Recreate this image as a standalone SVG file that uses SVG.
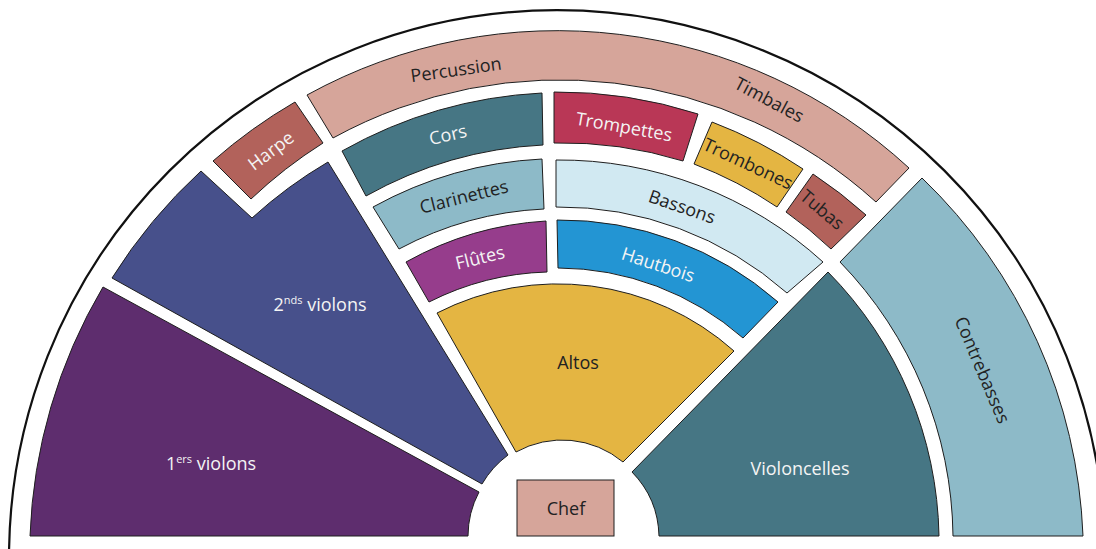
<svg xmlns="http://www.w3.org/2000/svg" width="1096" height="549" viewBox="0 0 1096 549">
<style>
.s{stroke:#1e1e1e;stroke-width:1;stroke-linejoin:miter}
text{font-family:"Open Sans","Lato","DejaVu Sans",sans-serif;font-size:18px;text-anchor:middle}
.w{fill:#f4f4f4}
.d{fill:#222}
.sup{font-size:11px}
</style>
<rect width="1096" height="549" fill="#ffffff"/>
<g id="stage">
<path d="M9,558 A548,548 0 0 1 1105,558" fill="none" stroke="#111" stroke-width="2.2"/>
</g>
<g id="violons1">
<path class="s" fill="#5e2d6e" d="M30,536 L468,536 A95,95 0 0 1 479,492 L103,287 A526,526 0 0 0 30,536 Z"/>
<text class="w" x="211" y="470">1<tspan class="sup" dy="-7">ers</tspan><tspan dy="7"> violons</tspan></text>
</g>
<g id="violons2">
<path class="s" fill="#47508b" d="M112,278 A521,521 0 0 1 201,171 L252,218 A451,451 0 0 1 328,162 L508,455 A97,97 0 0 0 482,484 Z"/>
<text class="w" x="320" y="311">2<tspan class="sup" dy="-7">nds</tspan><tspan dy="7"> violons</tspan></text>
</g>
<g id="harpe">
<path class="s" fill="#b2625b" d="M251,199 L213,161 A519,519 0 0 1 295,102 L323,143 A467,467 0 0 0 251,199 Z"/>
<text class="w" transform="translate(271,151) rotate(-37)" y="6">Harpe</text>
</g>
<g id="percussion">
<path class="s" fill="#d6a59a" d="M307,95 A519,519 0 0 1 909,168 L876,202 A471,471 0 0 0 333,138 Z"/>
<text class="d" transform="translate(456,70) rotate(-8)" y="6">Percussion</text>
<text class="d" transform="translate(769,100) rotate(28)" y="6">Timbales</text>
</g>
<g id="cors">
<path class="s" fill="#467684" d="M342,151 A455,455 0 0 1 542,93 L543,145 A404,404 0 0 0 366,196 Z"/>
<text class="w" transform="translate(448,135) rotate(-13)" y="6">Cors</text>
</g>
<g id="clarinettes">
<path class="s" fill="#8dbac8" d="M373,207 A390,390 0 0 1 542,159 L544,209 A341,341 0 0 0 399,249 Z"/>
<text class="d" transform="translate(464,197) rotate(-14)" y="6">Clarinettes</text>
</g>
<g id="flutes">
<path class="s" fill="#963d8c" d="M406,262 A327,327 0 0 1 546,221 L547,272 A279,279 0 0 0 429,302 Z"/>
<text class="w" transform="translate(480,258) rotate(-14)" y="6">Flûtes</text>
</g>
<g id="trompettes">
<path class="s" fill="#b93756" d="M554,92 A458,458 0 0 1 698,114 L683,161 A408,408 0 0 0 554,143 Z"/>
<text class="w" transform="translate(624,127) rotate(10)" y="6">Trompettes</text>
</g>
<g id="trombones">
<path class="s" fill="#e4b542" d="M712,122 A454,454 0 0 1 803,169 L777,207 A408,408 0 0 0 694,164 Z"/>
<text class="d" transform="translate(748,164) rotate(25)" y="6">Trombones</text>
</g>
<g id="tubas">
<path class="s" fill="#b2625b" d="M813,174 A455,455 0 0 1 866,215 L831,249 A408,408 0 0 0 786,212 Z"/>
<text class="d" transform="translate(822,210) rotate(40)" y="6">Tubas</text>
</g>
<g id="bassons">
<path class="s" fill="#d1e9f2" d="M556,160 A391,391 0 0 1 823,262 L787,293 A344,344 0 0 0 556,207 Z"/>
<text class="d" transform="translate(682,207) rotate(19)" y="6">Bassons</text>
</g>
<g id="hautbois">
<path class="s" fill="#2395d3" d="M557,220 A331,331 0 0 1 778,302 L743,338 A282,282 0 0 0 558,268 Z"/>
<text class="w" transform="translate(658,265) rotate(18)" y="6">Hautbois</text>
</g>
<g id="altos">
<path class="s" fill="#e4b542" d="M437,313 A265,265 0 0 1 734,351 L623,462 A95,95 0 0 0 516,452 Z"/>
<text class="d" x="578" y="369">Altos</text>
</g>
<g id="violoncelles">
<path class="s" fill="#467684" d="M828,272 A385,385 0 0 1 939,536 L659,536 A95,95 0 0 0 632,472 Z"/>
<text class="w" x="800" y="475">Violoncelles</text>
</g>
<g id="contrebasses">
<path class="s" fill="#8dbac8" d="M840,262 L922,178 A524,524 0 0 1 1083,536 L953,536 A400,400 0 0 0 840,262 Z"/>
<text class="d" transform="translate(982,370) rotate(67)" y="6">Contrebasses</text>
</g>
<g id="chef">
<rect class="s" fill="#d6a59a" x="517" y="480" width="97" height="56"/>
<text class="d" x="566" y="515">Chef</text>
</g>
</svg>
